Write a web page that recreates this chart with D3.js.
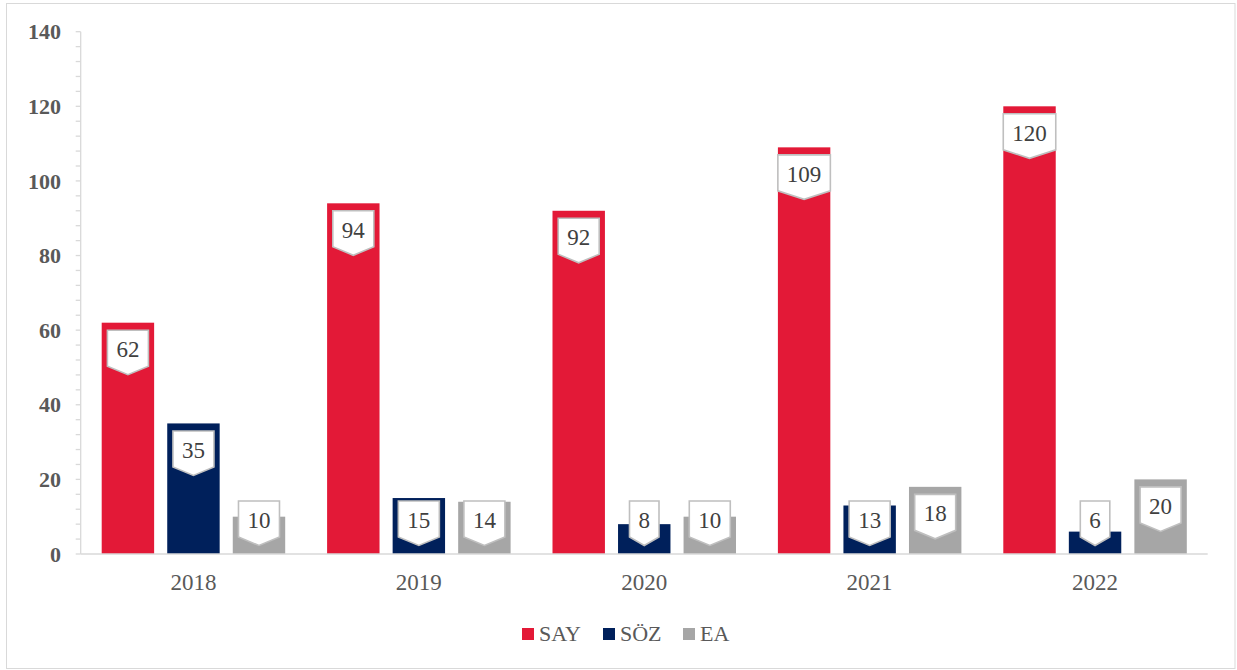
<!DOCTYPE html>
<html><head><meta charset="utf-8">
<script src="https://cdn.jsdelivr.net/npm/d3@7/dist/d3.min.js"></script>
<style>body{margin:0;background:#fff}svg{display:block}svg text{font-family:"Liberation Serif","Times New Roman",serif}</style>
</head><body>
<svg id="chart" width="1237" height="670"></svg>
<script>
const years = ["2018","2019","2020","2021","2022"];
const seriesNames = ["SAY","SÖZ","EA"];
const SAY = [62,94,92,109,120];
const SOZ = [35,15,8,13,6];
const EA = [10,14,10,18,20];
const yTicks = [0,20,40,60,80,100,120,140];
const colors = ["#e31937","#00205b","#a6a6a6"];

const seriesVals = [SAY, SOZ, EA];
const svg = d3.select("#chart");

svg.append("rect").attr("x",6.5).attr("y",3.5).attr("width",1228.5).attr("height",665)
  .attr("fill","#fff").attr("stroke","#d9d9d9").attr("stroke-width",1);

const left = 80.7, right = 1207.7, y0 = 554, yTop = 31.7;
const x0 = d3.scaleBand().domain(years).range([left,right]).padding(0);
const x1 = d3.scaleBand().domain(seriesNames).range([21, 204.5]).paddingInner(0.2).paddingOuter(0);
const y = d3.scaleLinear().domain([0,140]).range([y0,yTop]);

// minor ticks
const minor = d3.range(0,141,4);
svg.append("g").selectAll("line").data(minor).join("line")
  .attr("x1",left-5).attr("x2",left).attr("y1",d=>y(d)).attr("y2",d=>y(d))
  .attr("stroke","#d9d9d9").attr("stroke-width",1.3);
svg.append("line").attr("x1",left).attr("x2",left).attr("y1",y(0)).attr("y2",y(140))
  .attr("stroke","#d9d9d9").attr("stroke-width",1.3);

// y labels
svg.append("g").selectAll("text").data(yTicks).join("text")
  .attr("x",61).attr("y",d=>y(d)).attr("dy","0.35em").attr("text-anchor","end")
  .attr("font-weight","bold").attr("font-size",22).attr("fill","#595959")
  .text(d=>d);

// bars
const rows = [];
years.forEach((yr,i)=>seriesNames.forEach((s,j)=>rows.push({yr,s,j,v:seriesVals[j][i]})));
svg.append("g").selectAll("rect").data(rows).join("rect")
  .attr("x",d=>x0(d.yr)+x1(d.s)).attr("width",x1.bandwidth())
  .attr("y",d=>y(d.v)).attr("height",d=>y0-y(d.v)).attr("fill",d=>colors[d.j]);

// x axis line
svg.append("line").attr("x1",left).attr("x2",right).attr("y1",y0).attr("y2",y0)
  .attr("stroke","#d9d9d9").attr("stroke-width",1.5);

// x labels
svg.append("g").selectAll("text").data(years).join("text")
  .attr("x",d=>x0(d)+x0.bandwidth()/2).attr("y",590).attr("text-anchor","middle")
  .attr("font-size",23).attr("fill","#595959").text(d=>d);

// data label callouts
const lab = svg.append("g");
rows.forEach(d=>{
  const cx = x0(d.yr)+x1(d.s)+x1.bandwidth()/2;
  const t = lab.append("text").attr("font-size",23).attr("fill","#404040")
    .attr("text-anchor","middle").text(d.v);
  const tw = t.node().getComputedTextLength();
  const w = tw + 18, bh = 36, ph = 8.5;
  const top = Math.min(y(d.v)+7.5, y0-53);
  const xl = cx - w/2, xr = cx + w/2;
  const path = `M${xl},${top}L${xr},${top}L${xr},${top+bh}L${cx},${top+bh+ph}L${xl},${top+bh}Z`;
  lab.insert("path","text").attr("d",path).attr("fill","#fff").attr("stroke","#bfbfbf").attr("stroke-width",1.6);
  t.attr("x",cx).attr("y",top+bh/2+1).attr("dy","0.35em");
});

// legend
const legX = [522, 603, 683];
const leg = svg.append("g");
seriesNames.forEach((s,j)=>{
  leg.append("rect").attr("x",legX[j]).attr("y",628).attr("width",12).attr("height",12).attr("fill",colors[j]);
  leg.append("text").attr("x",legX[j]+17).attr("y",641)
    .attr("font-size",22).attr("fill","#595959").text(s);
});
</script>
</body></html>
